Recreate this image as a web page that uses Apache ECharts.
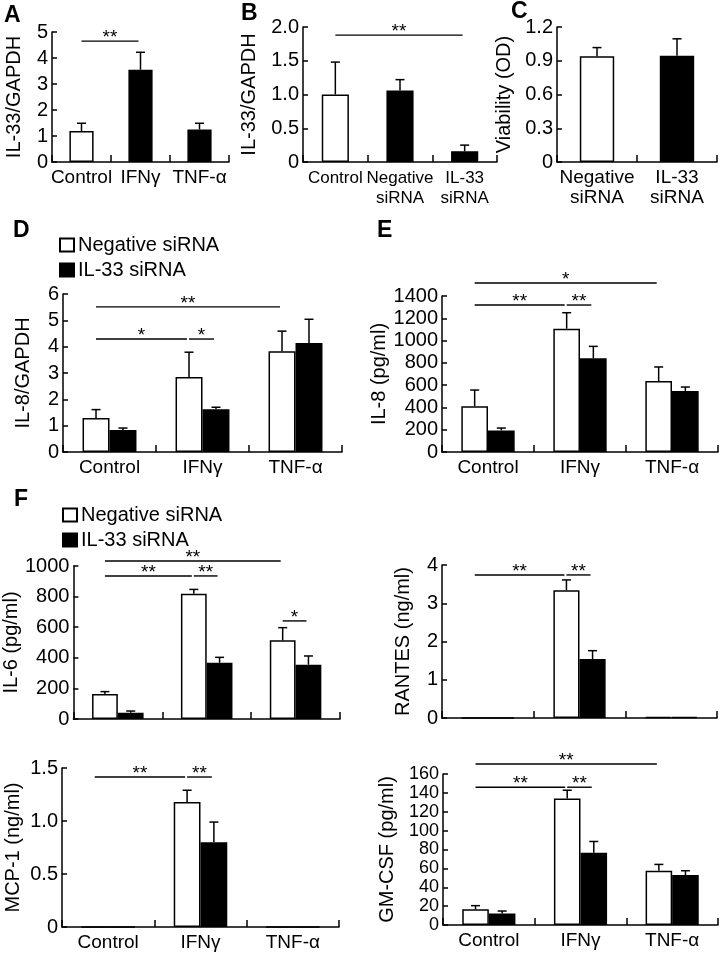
<!DOCTYPE html>
<html><head><meta charset="utf-8">
<script src="https://cdn.jsdelivr.net/npm/echarts@6/dist/echarts.min.js"></script>
<style>html,body{margin:0;padding:0;background:#fff}#c{width:727px;height:960px}</style>
</head><body><div id="c"></div>
<script>
// ---------- categories ----------
const treatCats = ['Control', 'IFNγ', 'TNF-α'];
const bCats = ['Control', 'Negative\nsiRNA', 'IL-33\nsiRNA'];
const cCats = ['Negative\nsiRNA', 'IL-33\nsiRNA'];
const legendNames = ['Negative siRNA', 'IL-33 siRNA'];

// ---------- A: IL-33/GAPDH ----------
const aMean = [1.19, 3.55, 1.25];
const aSD = [0.30, 0.67, 0.24];
// ---------- B: IL-33/GAPDH ----------
const bMean = [1.00, 1.06, 0.16];
const bSD = [0.48, 0.16, 0.09];
// ---------- C: Viability ----------
const cMean = [0.94, 0.945];
const cSD = [0.077, 0.15];
// ---------- D: IL-8/GAPDH ----------
const dNeg = [1.29, 2.85, 3.83];
const dNegSD = [0.32, 0.94, 0.76];
const dSi = [0.84, 1.62, 4.14];
const dSiSD = [0.07, 0.08, 0.90];
// ---------- E: IL-8 (pg/ml) ----------
const eNeg = [410, 1107, 637];
const eNegSD = [146, 143, 126];
const eSi = [194, 841, 547];
const eSiSD = [21, 107, 36];
// ---------- F: IL-6 (pg/ml) ----------
const il6Neg = [163, 819, 514];
const il6NegSD = [16, 28, 83];
const il6Si = [41, 368, 355];
const il6SiSD = [11, 35, 57];
// ---------- F: RANTES (ng/ml) ----------
const rantesNeg = [0, 3.34, 0.03];
const rantesNegSD = [0, 0.27, 0];
const rantesSi = [0, 1.54, 0.02];
const rantesSiSD = [0, 0.22, 0];
// ---------- F: MCP-1 (ng/ml) ----------
const mcpNeg = [0, 1.18, 0];
const mcpNegSD = [0, 0.11, 0];
const mcpSi = [0, 0.80, 0];
const mcpSiSD = [0, 0.19, 0];
// ---------- F: GM-CSF (pg/ml) ----------
const gmNeg = [16.6, 134, 57.5];
const gmNegSD = [3.9, 8.8, 6.7];
const gmSi = [12.3, 76.5, 52.9];
const gmSiSD = [2.5, 12, 4.6];

// ---------- significance: [fromCat, fromBar, toCat, toBar, level, mark] ----------
const aSig = [[0, 0, 1, 0, 4.65, '**']];
const bSig = [[0, 0, 2, 0, 1.88, '**']];
const dSig = [[0, 0, 2, 0, 5.51, '**'], [0, 0, 1, 0, 4.29, '*'], [1, 0, 1, 1, 4.29, '*']];
const eSig = [[0, 0, 2, 0, 1517, '*'], [0, 0, 1, 0, 1319, '**'], [1, 0, 1, 1, 1319, '**']];
const il6Sig = [[0, 0, 2, 0, 1033, '**'], [0, 0, 1, 0, 935, '**'], [1, 0, 1, 1, 935, '**'], [2, 0, 2, 1, 641, '*']];
const rantesSig = [[0, 0, 1, 0, 3.74, '**'], [1, 0, 1, 1, 3.74, '**']];
const mcpSig = [[0, 0, 1, 0, 1.415, '**'], [1, 0, 1, 1, 1.415, '**']];
const gmSig = [[0, 0, 2, 0, 170.6, '**'], [0, 0, 1, 0, 146, '**'], [1, 0, 1, 1, 146, '**']];

// ---------- build ----------
const FONT = '"Liberation Sans", Arial, Helvetica, sans-serif';
const grids = [], xAxes = [], yAxes = [], series = [], titles = [];

function oneDec(v) { return v === 0 ? '0' : v.toFixed(1); }
function plain(v) { return String(v); }

function addPanel(p) {
  const gi = grids.length;
  grids.push({ left: p.box[0], top: p.box[1], width: p.box[2], height: p.box[3], containLabel: false });
  xAxes.push({
    type: 'category', gridIndex: gi, data: p.cats, boundaryGap: true,
    axisLine: { show: true, lineStyle: { color: '#000', width: 1.5 } },
    axisTick: { show: true, inside: true, length: 7, alignWithLabel: false, lineStyle: { color: '#000', width: 1.5 } },
    axisLabel: { show: p.showX !== false, color: '#000', fontSize: p.xFont || 19, fontFamily: FONT, margin: 6, lineHeight: 20, interval: 0 },
    splitLine: { show: false }
  });
  yAxes.push({
    type: 'value', gridIndex: gi, min: 0, max: p.max, interval: p.interval,
    name: p.name, nameLocation: 'middle', nameGap: p.nameGap, nameRotate: 90,
    nameTextStyle: { color: '#000', fontSize: 20, fontFamily: FONT },
    axisLine: { show: true, lineStyle: { color: '#000', width: 1.5 } },
    axisTick: { show: true, inside: true, length: 5, lineStyle: { color: '#000', width: 1.5 } },
    axisLabel: { color: '#000', fontSize: p.yFont || 20, fontFamily: FONT, margin: 4, formatter: p.fmt || plain,
      showMinLabel: true, showMaxLabel: true, hideOverlap: false },
    splitLine: { show: false }
  });
  const ratio = p.ratio;
  if (p.grouped) {
    series.push({
      type: 'bar', name: legendNames[0], xAxisIndex: gi, yAxisIndex: gi, data: p.neg,
      barWidth: (ratio * 100) + '%', barGap: '0%',
      itemStyle: { color: '#fff', borderColor: '#000', borderWidth: 1.5 }, silent: true
    });
    series.push({
      type: 'bar', name: legendNames[1], xAxisIndex: gi, yAxisIndex: gi, data: p.si,
      barWidth: (ratio * 100) + '%', barGap: '0%',
      itemStyle: { color: '#000', borderColor: '#000', borderWidth: 1.5 }, silent: true
    });
    series.push(errSeries(gi, p.neg, p.negSD, -1, ratio));
    series.push(errSeries(gi, p.si, p.siSD, 1, ratio));
  } else {
    series.push({
      type: 'bar', xAxisIndex: gi, yAxisIndex: gi, barWidth: (ratio * 100) + '%', silent: true,
      data: p.mean.map((v, i) => ({
        value: v,
        itemStyle: { color: p.white.includes(i) ? '#fff' : '#000', borderColor: '#000', borderWidth: 1.5 }
      }))
    });
    series.push(errSeries(gi, p.mean, p.sd, 0, ratio));
  }
  if (p.sig) series.push(sigSeries(gi, p.sig, ratio, p.grouped));
  titles.push({ text: p.letter || '', left: p.letterPos ? p.letterPos[0] : 0, top: p.letterPos ? p.letterPos[1] : 0, padding: 0,
    textStyle: { fontSize: 23, fontWeight: 'bold', color: '#000', fontFamily: FONT } });
}

function errSeries(gi, means, sds, sign, ratio) {
  return {
    type: 'custom', xAxisIndex: gi, yAxisIndex: gi, z: 5, clip: false, silent: true,
    data: means.map((m, i) => [i, m, sds[i]]),
    renderItem(params, api) {
      const i = api.value(0), m = api.value(1), sd = api.value(2);
      if (!(sd > 0)) return null;
      const band = api.size([1, 0])[0];
      const bw = band * ratio;
      const p0 = api.coord([i, m]);
      const p1 = api.coord([i, m + sd]);
      const x = p0[0] + sign * bw / 2;
      return {
        type: 'group', children: [
          { type: 'line', shape: { x1: x, y1: p0[1], x2: x, y2: p1[1] }, style: { stroke: '#000', lineWidth: 1.5 } },
          { type: 'line', shape: { x1: x - 4.5, y1: p1[1], x2: x + 4.5, y2: p1[1] }, style: { stroke: '#000', lineWidth: 1.5 } }
        ]
      };
    }
  };
}

function sigSeries(gi, sig, ratio, grouped) {
  return {
    type: 'custom', xAxisIndex: gi, yAxisIndex: gi, z: 6, clip: false, silent: true,
    data: sig.map(s => [s[0], s[4]]),
    renderItem(params, api) {
      const s = sig[params.dataIndex];
      const band = api.size([1, 0])[0];
      const bw = band * ratio;
      const off = b => grouped ? (b === 0 ? -bw / 2 : bw / 2) : 0;
      const pa = api.coord([s[0], s[4]]);
      const pb = api.coord([s[2], s[4]]);
      const x1 = pa[0] + off(s[1]);
      const x2 = pb[0] + off(s[3]) - 2;
      const y = pa[1];
      return {
        type: 'group', children: [
          { type: 'line', shape: { x1: x1, y1: y, x2: x2, y2: y }, style: { stroke: '#000', lineWidth: 1.4 } },
          { type: 'text', x: (x1 + x2) / 2, y: y - 3,
            style: { text: s[5], fill: '#000', font: '19px ' + FONT, textAlign: 'center', textVerticalAlign: 'middle', align: 'center', verticalAlign: 'middle' } }
        ]
      };
    }
  };
}

addPanel({ letter: 'A', letterPos: [4, 4], box: [52, 32, 177, 130], cats: treatCats, max: 5, interval: 1,
  name: 'IL-33/GAPDH', nameGap: 28, ratio: 0.41, grouped: false, mean: aMean, sd: aSD, white: [0], sig: aSig });
addPanel({ letter: 'B', letterPos: [241, 2], box: [303, 27, 194, 135], cats: bCats, max: 2, interval: 0.5, fmt: oneDec, xFont: 17,
  name: 'IL-33/GAPDH', nameGap: 44, ratio: 0.42, grouped: false, mean: bMean, sd: bSD, white: [0], sig: bSig });
addPanel({ letter: 'C', letterPos: [511, 0], box: [557, 27, 160, 135], cats: cCats, max: 1.2, interval: 0.3, fmt: oneDec,
  name: 'Viability (OD)', nameGap: 43, ratio: 0.43, grouped: false, mean: cMean, sd: cSD, white: [0] });
addPanel({ letter: 'D', letterPos: [13, 219], box: [63, 294, 279, 158], cats: treatCats, max: 6, interval: 1,
  name: 'IL-8/GAPDH', nameGap: 30, ratio: 0.29, grouped: true, neg: dNeg, negSD: dNegSD, si: dSi, siSD: dSiSD, sig: dSig });
addPanel({ letter: 'E', letterPos: [377, 219], box: [442, 296, 276, 156], cats: treatCats, max: 1400, interval: 200,
  name: 'IL-8 (pg/ml)', nameGap: 52, ratio: 0.29, grouped: true, neg: eNeg, negSD: eNegSD, si: eSi, siSD: eSiSD, sig: eSig });
addPanel({ letter: 'F', letterPos: [14, 488], box: [63, 566, 277, 153], cats: treatCats, max: 1000, interval: 200, showX: false,
  name: 'IL-6 (pg/ml)', nameGap: 45, ratio: 0.29, grouped: true, neg: il6Neg, negSD: il6NegSD, si: il6Si, siSD: il6SiSD, sig: il6Sig });
addPanel({ box: [442, 565, 275, 153], cats: treatCats, max: 4, interval: 1, showX: false,
  name: 'RANTES (ng/ml)', nameGap: 29, ratio: 0.285, grouped: true, neg: rantesNeg, negSD: rantesNegSD, si: rantesSi, siSD: rantesSiSD, sig: rantesSig });
addPanel({ box: [62, 768, 277, 159], cats: treatCats, max: 1.5, interval: 0.5, fmt: oneDec,
  name: 'MCP-1 (ng/ml)', nameGap: 39, ratio: 0.29, grouped: true, neg: mcpNeg, negSD: mcpNegSD, si: mcpSi, siSD: mcpSiSD, sig: mcpSig });
addPanel({ box: [443, 774, 275, 151], cats: treatCats, max: 160, interval: 20, yFont: 18,
  name: 'GM-CSF (pg/ml)', nameGap: 46, ratio: 0.29, grouped: true, neg: gmNeg, negSD: gmNegSD, si: gmSi, siSD: gmSiSD, sig: gmSig });

const legendBase = {
  data: legendNames, orient: 'vertical', icon: 'rect', itemWidth: 14, itemHeight: 13, itemGap: 5,
  selectedMode: false, padding: 0,
  textStyle: { color: '#000', fontSize: 20, fontFamily: FONT, padding: [0, 0, 0, -1] }
};

const chart = echarts.init(document.getElementById('c'), null, { renderer: 'canvas' });
chart.setOption({
  animation: false,
  backgroundColor: '#fff',
  title: titles.filter(t => t.text),
  legend: [
    Object.assign({}, legendBase, { left: 59, top: 235 }),
    Object.assign({}, legendBase, { left: 62, top: 505 })
  ],
  grid: grids, xAxis: xAxes, yAxis: yAxes, series: series
});
</script></body></html>
